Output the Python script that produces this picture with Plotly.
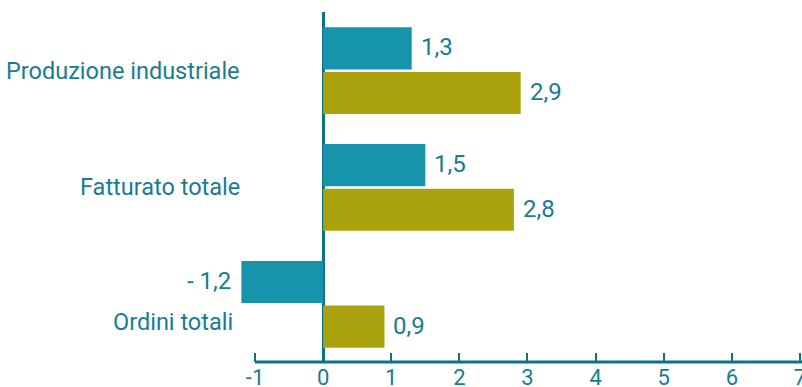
import plotly.graph_objects as go

# Categories (top to bottom) and the two series of percentage changes
categories = ["Produzione industriale", "Fatturato totale", "Ordini totali"]
series_a = [1.3, 1.5, -1.2]
series_b = [2.9, 2.8, 0.9]
x_ticks = [-1, 0, 1, 2, 3, 4, 5, 6, 7]

TEAL = "#1793ab"
OLIVE = "#a9a20c"
TEXT = "#177d91"
LINE = "#0a7387"
FONT = "Roboto"

X_MIN, X_MAX = -1.25, 7.03


def fmt(v):
    s = f"{abs(v):.1f}".replace(".", ",")
    return f"- {s}" if v < 0 else s


fig = go.Figure()
fig.add_trace(go.Bar(y=categories, x=series_a, orientation="h",
                     marker=dict(color=TEAL, line=dict(width=0)),
                     showlegend=False, hoverinfo="skip"))
fig.add_trace(go.Bar(y=categories, x=series_b, orientation="h",
                     marker=dict(color=OLIVE, line=dict(width=0)),
                     showlegend=False, hoverinfo="skip"))

annotations = []
half_slot = 22.25
for cat, va, vb in zip(categories, series_a, series_b):
    # value labels next to the end of each bar
    for v, shift in ((va, half_slot + 1), (vb, -half_slot + 1)):
        annotations.append(dict(
            x=v, y=cat, xref="x", yref="y", text=fmt(v), showarrow=False,
            xanchor="left" if v >= 0 else "right",
            xshift=7 if v >= 0 else -8, yshift=shift,
            font=dict(family=FONT, size=24, color=TEXT)))
    # category label; moves down beside the second bar when the first is negative
    moved = va < 0
    annotations.append(dict(
        x=x_ticks[0], y=cat, xref="x", yref="y", text=cat, showarrow=False,
        xanchor="right", xshift=-20 if moved else -13,
        yshift=-18 if moved else 0,
        font=dict(family=FONT, size=23.5, color=TEXT)))

fig.update_layout(
    width=802, height=387,
    margin=dict(l=238, r=0, t=12, b=25),
    paper_bgcolor="white", plot_bgcolor="white",
    barmode="group", bargap=0.236, bargroupgap=0.056,
    annotations=annotations,
    font=dict(family=FONT, color=TEXT),
    # baseline of the value axis, starting at the first tick
    shapes=[dict(type="line", xref="x", yref="paper",
                 x0=x_ticks[0], x1=X_MAX, y0=0, y1=0,
                 line=dict(color=LINE, width=3), layer="above")],
    xaxis=dict(
        range=[X_MIN, X_MAX], tickvals=x_ticks, ticktext=[str(t) for t in x_ticks],
        showgrid=False, zeroline=True, zerolinecolor=LINE, zerolinewidth=3,
        showline=False, automargin=False, ticklabeloverflow="allow",
        ticks="inside", ticklen=9, tickwidth=2, tickcolor=LINE,
        tickfont=dict(family=FONT, size=22, color=TEXT),
        fixedrange=True),
    yaxis=dict(
        type="category", categoryorder="array", categoryarray=categories,
        range=[2.494, -0.502], showticklabels=False, showgrid=False,
        zeroline=False, showline=False, ticks="", automargin=False,
        fixedrange=True),
)

fig.write_html("out.html", config={"displayModeBar": False})
